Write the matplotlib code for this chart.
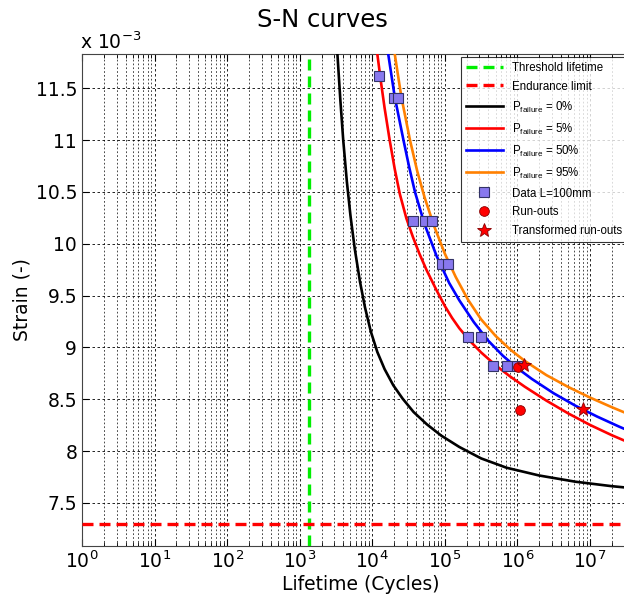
import numpy as np
import matplotlib
matplotlib.use('Agg')
import matplotlib.pyplot as plt
from matplotlib.ticker import FixedLocator, NullFormatter

plt.rcParams['mathtext.default'] = 'regular'

# values (log10 of cycles, strain in 1e-3)
threshold_life = 1340
endurance_limit = 7.3

p0_logN = [3.52, 3.56, 3.60, 3.65, 3.70, 3.76, 3.83, 3.90, 3.98, 4.07, 4.17, 4.29,
           4.42, 4.57, 4.75, 4.95, 5.2, 5.5, 5.85, 6.3, 6.8, 7.3, 7.7]
p0_strain = [11.83, 11.39, 11.00, 10.60, 10.27, 9.946, 9.638, 9.386, 9.154, 8.956, 8.791, 8.635,
             8.505, 8.377, 8.26, 8.15, 8.04, 7.93, 7.84, 7.765, 7.705, 7.662, 7.635]

p5_logN = [4.07, 4.12, 4.17, 4.24, 4.31, 4.38, 4.47, 4.56, 4.65, 4.75, 4.885, 5.0,
           5.1, 5.2, 5.35, 5.5, 5.7, 5.9, 6.1, 6.4, 6.7, 7.0, 7.3, 7.7]
p5_strain = [11.83, 11.56, 11.31, 11.0, 10.72, 10.48, 10.246, 10.066, 9.904, 9.744, 9.553, 9.40,
             9.285, 9.185, 9.06, 8.952, 8.828, 8.72, 8.622, 8.487, 8.364, 8.253, 8.154, 8.034]

p50_logN = [4.22, 4.31, 4.43, 4.51, 4.59, 4.72, 4.885, 5.06, 5.2, 5.4, 5.6, 5.8,
            6.0, 6.2, 6.5, 6.8, 7.1, 7.4, 7.7]
p50_strain = [11.83, 11.416, 11.0, 10.736, 10.496, 10.19, 9.885, 9.622, 9.454, 9.244, 9.064, 8.92,
              8.80, 8.696, 8.558, 8.438, 8.333, 8.237, 8.147]

p95_logN = [4.31, 4.40, 4.52, 4.62, 4.72, 4.85, 5.0, 5.15, 5.32, 5.5, 5.7, 5.9,
            6.1, 6.4, 6.7, 7.0, 7.3, 7.7]
p95_strain = [11.83, 11.42, 11.0, 10.70, 10.45, 10.175, 9.905, 9.68, 9.46, 9.271, 9.111, 8.981,
              8.871, 8.733, 8.619, 8.517, 8.424, 8.308]

data_logN = [4.09, 4.30, 4.36, 4.563, 4.728, 4.83, 4.96, 5.04, 5.313, 5.505, 5.665, 5.854, 6.0]
data_strain = [11.616, 11.41, 11.41, 10.22, 10.22, 10.22, 9.80, 9.80, 9.10, 9.10, 8.82, 8.82, 8.82]

runout_logN = [6.01, 6.03]
runout_strain = [8.81, 8.40]

transf_logN = [6.09, 6.9]
transf_strain = [8.83, 8.41]

decades = [0, 1, 2, 3, 4, 5, 6, 7]
strain_ticks = [7.5, 8, 8.5, 9, 9.5, 10, 10.5, 11, 11.5]
strain_labels = ['7.5', '8', '8.5', '9', '9.5', '10', '10.5', '11', '11.5']

fig = plt.figure(figsize=(6.24, 6.01), dpi=100)
ax = fig.add_axes([82/624, 1 - 546/601, (640 - 82)/624, (546 - 54)/601])

ax.axvline(threshold_life, color='#00ee00', lw=2.4, ls=(0, (3.3, 1.8)), label='Threshold lifetime', zorder=3)
ax.axhline(endurance_limit, color='#ff0000', lw=2.4, ls=(0, (3.3, 1.8)), label='Endurance limit', zorder=3)

curves = [(p0_logN, p0_strain, 'black', '0%'),
          (p5_logN, p5_strain, '#ff0000', '5%'),
          (p50_logN, p50_strain, '#0000ff', '50%'),
          (p95_logN, p95_strain, '#ff8000', '95%')]
for logN, strain, col, p in curves:
    ax.plot(10**np.array(logN), strain, color=col, lw=1.9, zorder=4,
            solid_joinstyle='round', label='$P_{failure}$ = ' + p)

ax.plot(10**np.array(data_logN), data_strain, 's', ms=6.5, mfc='#8878ee', mec='#333366',
        mew=0.8, ls='none', label='Data L=100mm', zorder=5)
ax.plot(10**np.array(runout_logN), runout_strain, 'o', ms=7, mfc='#ff0000', mec='#880000',
        mew=0.6, ls='none', label='Run-outs', zorder=6)
ax.plot(10**np.array(transf_logN), transf_strain, '*', ms=10, mfc='#ff0000', mec='#880000',
        mew=0.6, ls='none', label='Transformed run-outs', zorder=7)

ax.set_xscale('log')
ax.set_xlim(1, 10**7.69)
ax.set_ylim(7.085, 11.83)
major = [10.0**d for d in decades]
minor = [k * 10.0**d for d in decades for k in range(2, 10)]
ax.xaxis.set_major_locator(FixedLocator(major))
ax.xaxis.set_minor_locator(FixedLocator(minor))
ax.xaxis.set_minor_formatter(NullFormatter())
ax.set_xticklabels(['$10^{%d}$' % d for d in decades])
ax.set_yticks(strain_ticks)
ax.set_yticklabels(strain_labels)

ax.grid(True, which='major', color='black', ls=(0, (3, 3)), lw=0.6)
ax.grid(True, which='minor', axis='x', color='black', ls=(0, (2.5, 3)), lw=0.5)
ax.tick_params(which='both', direction='in', top=True, right=True, labelsize=13.5)
ax.tick_params(which='major', length=5)
ax.tick_params(which='minor', length=3)
for s in ax.spines.values():
    s.set_color('#444444')

ax.set_xlabel('Lifetime (Cycles)', fontsize=13.5, labelpad=2)
ax.set_ylabel('Strain (-)', fontsize=13.5, labelpad=3)
fig.text(322/624, 1 - 20/601, 'S-N curves', fontsize=17.5, ha='center', va='center')
fig.text(80/624, 1 - 42/601, 'x 10$^{-3}$', fontsize=13.5, ha='left', va='center')

leg = ax.legend(loc='upper left', bbox_to_anchor=(461/624, 1 - 57/601), bbox_transform=fig.transFigure,
                prop={'family': 'Liberation Sans', 'size': 8.3}, frameon=True, fancybox=False,
                edgecolor='black', handlelength=3.2, labelspacing=0.6, borderaxespad=0, borderpad=0.4)
leg.get_frame().set_linewidth(0.8)
leg.set_zorder(10)

fig.savefig('out.png', dpi=100)
